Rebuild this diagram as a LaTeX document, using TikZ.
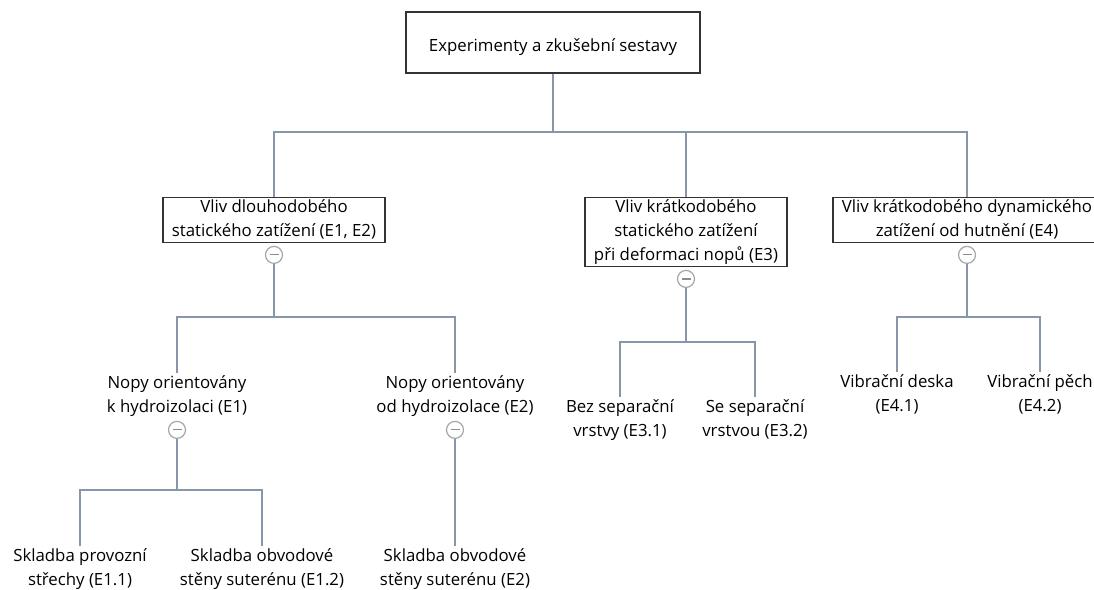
\documentclass[tikz,border=0pt]{standalone}
\usepackage{fontspec}
\setmainfont{Open Sans}
\usepackage{tikz}
\usetikzlibrary{shapes,arrows,positioning}
\definecolor{lnk}{RGB}{136,150,170}
\newcommand{\topstrut}{\rule{0pt}{22pt}}
\newcommand{\botstrut}{\rule[-4pt]{0pt}{4pt}}

\begin{document}
\begin{tikzpicture}[x=1pt,y=-1pt,semithick,font=\fontsize{16.8}{24}\selectfont]
\tikzstyle{every node}=[align=center,text=black]
\tikzstyle{box}=[draw=black!80,line width=1.7pt,fill=white,inner xsep=9pt,inner ysep=2pt,
  execute at begin node=\topstrut,execute at end node=\botstrut]
\tikzstyle{leaf}=[inner xsep=2pt,inner ysep=2pt,execute at begin node=\topstrut,execute at end node=\botstrut]
\tikzstyle{fold}=[circle,draw=black!35,fill=white,line width=1.2pt,minimum size=17pt,inner sep=0pt,
  path picture={\draw[black!45,line width=1.2pt] ([xshift=-4.5pt]path picture bounding box.center)
    -- ([xshift=4.5pt]path picture bounding box.center);}]
\tikzstyle{link}=[draw=lnk,line width=2pt]
\useasboundingbox (0,0) rectangle (1094,589);
\clip (0,0) rectangle (1094,589);
% boxes
\node[box,minimum width=294pt,minimum height=61pt] (root) at (553,42.5) {Experimenty a zkušební sestavy};
\node[box] (dl) at (274,220) {Vliv dlouhodobého\\statického zatížení (E1, E2)};
\node[box] (kr) at (686,232) {Vliv krátkodobého\\statického zatížení\\při deformaci nopů (E3)};
\node[box] (dyn) at (967,220) {Vliv krátkodobého dynamického\\zatížení od hutnění (E4)};
\node[fold,below=2.5pt of dl] (f1) {};
\node[fold,below=2.5pt of kr] (f2) {};
\node[fold,below=2.5pt of dyn] (f3) {};
% leaves
\node[leaf] (n1) at (177,396) {Nopy orientovány\\k hydroizolaci (E1)};
\node[leaf] (n2) at (455,396) {Nopy orientovány\\od hydroizolace (E2)};
\node[leaf] (e31) at (620,420) {Bez separační\\vrstvy (E3.1)};
\node[leaf] (e32) at (755,420) {Se separační\\vrstvou (E3.2)};
\node[leaf] (e41) at (897,395) {Vibrační deska\\(E4.1)};
\node[leaf] (e42) at (1040,395) {Vibrační pěch\\(E4.2)};
\node[fold,below=2pt of n1] (f4) {};
\node[fold,below=2pt of n2] (f5) {};
\node[leaf] (s11) at (80,569) {Skladba provozní\\střechy (E1.1)};
\node[leaf] (s12) at (262,569) {Skladba obvodové\\stěny suterénu (E1.2)};
\node[leaf] (s2) at (455,569) {Skladba obvodové\\stěny suterénu (E2)};
% junctions
\coordinate (j0) at (553,132);
\coordinate (j1) at (274,317);
\coordinate (j2) at (686,342);
\coordinate (j3) at (967,317);
\coordinate (j4) at (177,490);
\path[link] (root.south) -- (j0) -| (dl.north)
            (j0) -| (kr.north)
            (j0) -| (dyn.north)
            (f1.south) -- (j1) -| (n1.north)
            (j1) -| (n2.north)
            (f2.south) -- (j2) -| (e31.north)
            (j2) -| (e32.north)
            (f3.south) -- (j3) -| (e41.north)
            (j3) -| (e42.north)
            (f4.south) -- (j4) -| (s11.north)
            (j4) -| (s12.north)
            (f5.south) -- (s2.north);
\end{tikzpicture}
\end{document}
